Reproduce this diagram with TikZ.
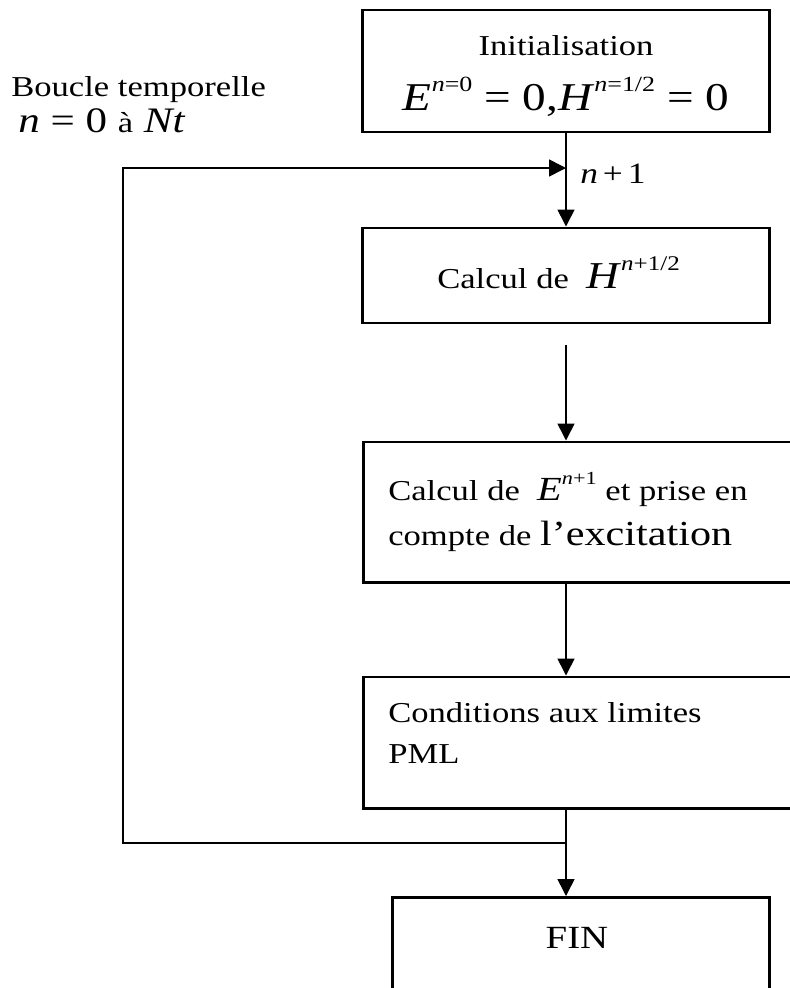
\documentclass[tikz,border=0pt]{standalone}
\usepackage{graphicx}
\usepackage{fontspec}
\setmainfont{Liberation Serif}[FakeStretch=1.2]
\usetikzlibrary{arrows.meta}

% petit exposant en mode texte
\newcommand{\expo}[1]{\raisebox{1ex}{\scalebox{0.55}{#1}}}

\begin{document}
\begin{tikzpicture}[x=0.025cm, y=-0.025cm,
    boite/.style={draw, line width=2.1pt, inner sep=0pt},
    fleche/.style={-{Triangle[length=12pt, width=12pt]}, line width=1.1pt},
    texte/.style={font=\fontsize{20.5}{30}\selectfont, inner sep=0pt},
    grand/.style={font=\fontsize{28}{34}\selectfont, inner sep=0pt}]
  \useasboundingbox (0,0) rectangle (790,988);
  \clip (0,0) rectangle (790,988);

  % les boites
  \node[boite, minimum width=10.15cm, minimum height=3.05cm] (init) at (566,71) {};
  \node[boite, minimum width=10.15cm, minimum height=2.375cm] (calcH) at (566,275.5) {};
  \node[boite, anchor=west, minimum width=11.5cm, minimum height=3.5cm] (calcE) at (362,512) {};
  \node[boite, anchor=west, minimum width=11.5cm, minimum height=3.275cm] (limites) at (362,742.5) {};
  \node[boite, anchor=north, minimum width=9.4cm, minimum height=2.8cm] (fin) at (581,896) {};

  % les textes
  \node[texte, anchor=base west] (boucle) at (11,96) {Boucle temporelle};
  \node[font=\fontsize{25.5}{30}\selectfont, inner sep=0pt, anchor=base west] (bornes) at (18,132)
    {\textit{n} = 0 {\fontsize{20.5}{30}\selectfont à} \textit{Nt}};
  \node[texte, anchor=base] (tinit) at (566,55) {Initialisation};
  \node[grand, anchor=base] (tcond) at (566,110)
    {\textit{E}\expo{\textit{n}=0} = 0,\textit{H}\expo{\textit{n}=1/2} = 0};
  \node[font=\fontsize{21}{25}\selectfont, inner sep=0pt, anchor=base west] (incr) at (580,183)
    {\textit{n}\,+\,1};
  \node[texte, anchor=base west] (tcalcH) at (437,288)
    {Calcul de \ {\fontsize{27}{30}\selectfont\textit{H}\expo{\textit{n}+1/2}}};
  \node[texte, anchor=base west] (tcalcE) at (388,500)
    {Calcul de \ {\fontsize{24}{30}\selectfont\textit{E}\expo{\textit{n}+1}} et prise en};
  \node[texte, anchor=base west] (texcit) at (388,545)
    {compte de {\fontsize{25}{30}\selectfont l’excitation}};
  \node[texte, anchor=base west] (tlim) at (388,722) {Conditions aux limites};
  \node[texte, anchor=base west] (tpml) at (388,763) {PML};
  \node[font=\fontsize{23}{30}\selectfont, inner sep=0pt, anchor=base] (tfin) at (577,948) {FIN};

  % les fleches
  \coordinate (jonction) at (566,168);
  \coordinate (depart) at (566,345);
  \coordinate (sortie) at (566,843);
  \coordinate (coin) at (123,168);
  \draw[fleche] (init.south) -- (calcH.north);
  \draw[fleche] (depart) -- (depart |- calcE.north);
  \draw[fleche] (depart |- calcE.south) -- (depart |- limites.north);
  \draw[fleche] (depart |- limites.south) -- (depart |- fin.north);
  \draw[fleche] (sortie) -| (coin) -- (jonction);
\end{tikzpicture}
\end{document}
